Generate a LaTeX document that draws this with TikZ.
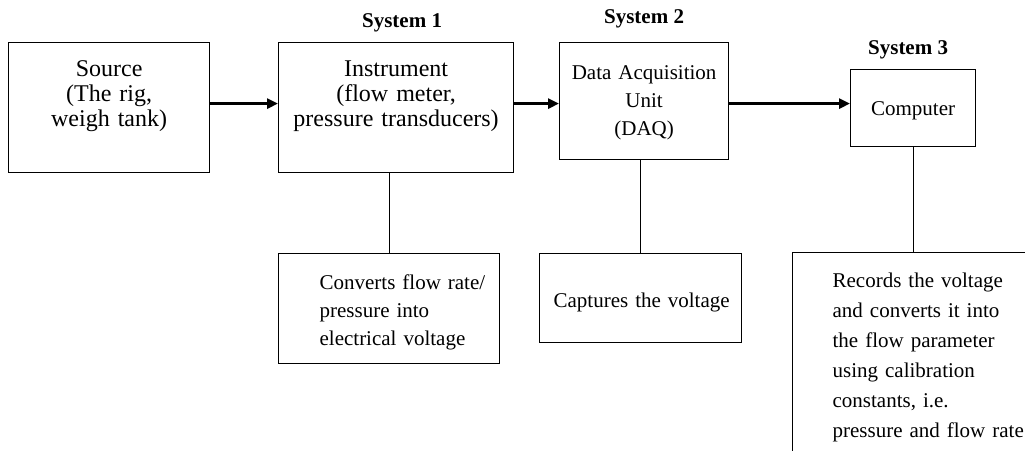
\documentclass[tikz,border=0pt]{standalone}
\usepackage{fontspec}
\setmainfont{Liberation Serif}
\usetikzlibrary{arrows.meta,positioning}

\begin{document}
\begin{tikzpicture}[x=1pt, y=-1pt,
  box/.style={draw, line width=1.2pt, inner sep=0pt, anchor=north west,
    align=center, font=\fontsize{21}{28}\selectfont},
  bigbox/.style={box, font=\fontsize{24}{25}\selectfont},
  note/.style={box, align=left},
  sys/.style={font=\fontsize{21}{25}\selectfont\bfseries, inner sep=0pt},
  flow/.style={line width=3pt, -{Triangle[length=11pt, width=10pt]}},
  link/.style={line width=1.2pt}]
  \clip (0,0) rectangle (1025,450);
  % measurement chain
  \node[bigbox, text width=201pt, text height=34pt, text depth=96pt] (src) at (8,42)
    {Source\\(The rig,\\weigh tank)};
  \node[bigbox, text width=235pt, text height=34pt, text depth=96pt] (inst) at (278,42)
    {Instrument\\(flow meter,\\pressure transducers)};
  \node[box, text width=169pt, text height=37pt, text depth=80pt] (daq) at (559,42)
    {Data Acquisition\\Unit\\(DAQ)};
  \node[box, text width=125pt, text height=46pt, text depth=31pt] (comp) at (850,69)
    {Computer};
  % system labels
  \node[sys, above=10pt of inst, xshift=6pt] (sys1) {System 1};
  \node[sys, above=14pt of daq] (sys2) {System 2};
  \node[sys, above=10pt of comp, xshift=-5pt] (sys3) {System 3};
  % what each stage does
  \node[note, text width=221pt, text height=36pt, text depth=74pt] (conv) at (278,253)
    {\leftskip=41pt Converts flow rate/\\pressure into\\electrical voltage\par};
  \node[note, text width=202pt, text height=54pt, text depth=35pt] (capt) at (539,253)
    {\leftskip=14pt Captures the voltage\par};
  \node[note, text width=300pt, text height=35pt, text depth=250pt,
    font=\fontsize{21}{30}\selectfont] (rec) at (792,252)
    {\leftskip=40pt Records the voltage\\and converts it into\\the flow parameter\\using calibration\\constants, i.e.\\pressure and flow rate\par};
  % connectors
  \draw[flow] ([yshift=4pt]src.east) -- ([yshift=4pt]inst.west);
  \draw[flow] ([yshift=4pt]inst.east) -- ([yshift=4pt]inst.east -| daq.west);
  \draw[flow, line width=3.5pt] ([yshift=-2.5pt]daq.east) -- ([yshift=-2.5pt]daq.east -| comp.west);
  \draw[link] (inst.south -| conv.north) -- (conv.north);
  \draw[link] (daq.south -| capt.north) -- (capt.north);
  \draw[link] (comp.south) -- (comp.south |- rec.north);
\end{tikzpicture}
\end{document}
